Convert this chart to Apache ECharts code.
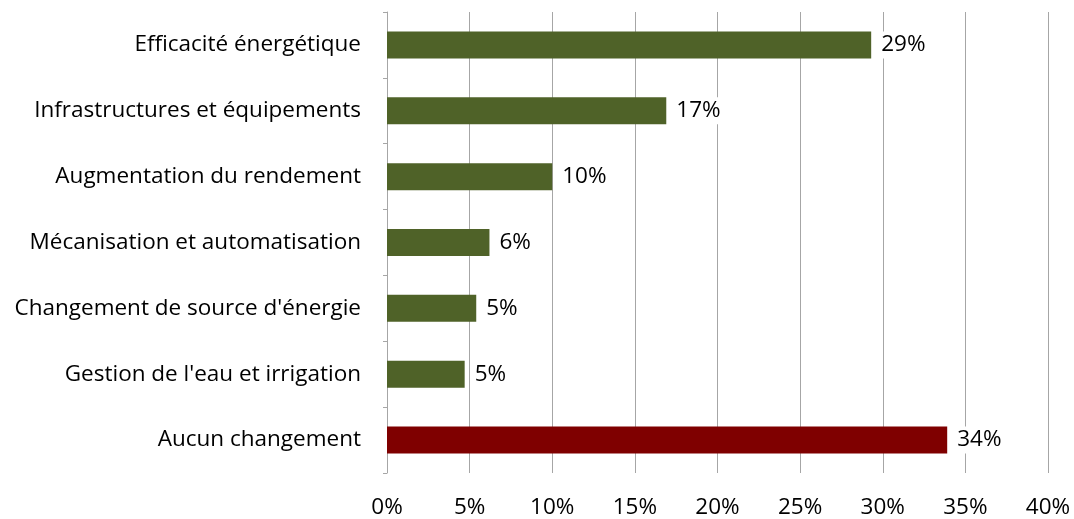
<!DOCTYPE html>
<html>
<head>
<meta charset="utf-8">
<script src="https://cdn.jsdelivr.net/npm/echarts@6/dist/echarts.min.js"></script>
<style>
  html, body { margin: 0; padding: 0; background: #fff; }
  #chart { width: 1074px; height: 519px; }
</style>
</head>
<body>
<div id="chart"></div>
<script>
// Categories listed bottom-to-top (category axis grows upward)
const categories = [
  'Aucun changement',
  "Gestion de l'eau et irrigation",
  "Changement de source d'énergie",
  'Mécanisation et automatisation',
  'Augmentation du rendement',
  'Infrastructures et équipements',
  'Efficacité énergétique'
];
// Share of respondents, in percent
const values = [33.9, 4.7, 5.4, 6.2, 10.0, 16.9, 29.3];
const barColors = ['#7F0000', '#4F6228', '#4F6228', '#4F6228', '#4F6228', '#4F6228', '#4F6228'];
const xTicks = [0, 5, 10, 15, 20, 25, 30, 35, 40];

const FONT = '"Open Sans", "Noto Sans", sans-serif';
const FONT_SIZE = 22.5;
const chart = echarts.init(document.getElementById('chart'), null, { renderer: 'canvas' });

chart.setOption({
  animation: false,
  backgroundColor: '#ffffff',
  grid: { left: 387, right: 26, top: 12, bottom: 46, containLabel: false },
  xAxis: {
    type: 'value',
    min: xTicks[0],
    max: xTicks[xTicks.length - 1],
    interval: 5,
    axisLine: { show: false },
    axisTick: { show: false },
    splitLine: { show: true, lineStyle: { color: '#a6a6a6', width: 1 } },
    axisLabel: {
      formatter: v => v + '%',
      color: '#000',
      fontFamily: FONT,
      fontSize: FONT_SIZE,
      margin: 23
    }
  },
  yAxis: {
    type: 'category',
    data: categories,
    axisLine: { show: true, lineStyle: { color: '#a6a6a6', width: 1 } },
    axisTick: { show: true, length: 4, lineStyle: { color: '#a6a6a6' } },
    axisLabel: {
      color: '#000',
      fontFamily: FONT,
      fontSize: FONT_SIZE,
      margin: 26
    }
  },
  series: [{
    type: 'bar',
    barWidth: '41%',
    data: values.map((v, i) => ({ value: v, itemStyle: { color: barColors[i] } })),
    label: {
      show: true,
      position: 'right',
      distance: 6,
      formatter: p => Math.round(p.value) + '%',
      color: '#000',
      fontFamily: FONT,
      fontSize: FONT_SIZE,
      backgroundColor: '#ffffff',
      padding: [2, 4]
    }
  }]
});
</script>
</body>
</html>
